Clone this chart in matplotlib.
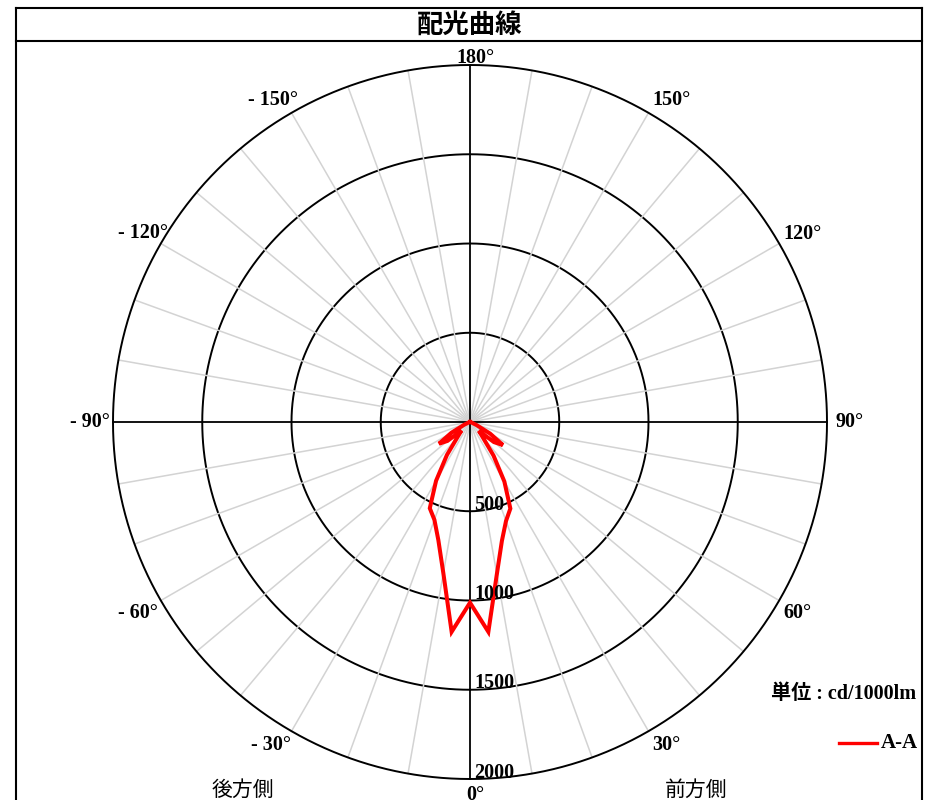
import numpy as np
import matplotlib
matplotlib.use("Agg")
import matplotlib.pyplot as plt
from matplotlib.lines import Line2D

# -----------------------------
# Data (cd/1000lm, A-A plane)
# -----------------------------
angles_deg = [
    -180, -175, -170, -165, -160, -155, -150, -145, -140, -135, -130, -125,
    -120, -115, -110, -105, -100, -95, -90, -85, -80, -75, -70, -65,
    -60, -55, -50, -45, -40, -35, -30, -25, -20, -15, -10, -5,
    0,
    5, 10, 15, 20, 25, 30, 35, 40, 45, 50, 55, 60,
    65, 70, 75, 80, 85, 90, 95, 100, 105, 110, 115, 120,
    125, 130, 135, 140, 145, 150, 155, 160, 165, 170, 175, 180,
]
intensity = [
    0, 0, 0, 0, 0, 0, 0, 0, 0, 0, 0, 0,
    0, 0, 0, 0, 0, 0, 0, 0, 0, 0, 8, 35,
    120, 212, 165, 68, 105, 225, 380, 533, 583, 685, 860, 1180,
    1012,
    1180, 866, 690, 590, 535, 385, 230, 110, 70, 175, 225, 130,
    40, 10, 0, 0, 0, 0, 0, 0, 0, 0, 0, 0,
    0, 0, 0, 0, 0, 0, 0, 0, 0, 0, 0, 0,
]
series_name = "A-A"

ring_values = [500, 1000, 1500, 2000]
angle_labels = [0, 30, 60, 90, 120, 150, 180, -30, -60, -90, -120, -150]

SERIF = "Liberation Serif"
CJK = ["Noto Sans CJK JP", "DejaVu Sans"]

# -----------------------------
# Figure / frame
# -----------------------------
W, H = 930, 800
fig = plt.figure(figsize=(W / 100, H / 100), dpi=100)

def fx(px):
    return px / W

def fy(py):
    return 1 - py / H

frame_kw = dict(color="black", lw=1.5, transform=fig.transFigure)
fig.add_artist(Line2D([fx(15.5), fx(921.5)], [fy(7.5), fy(7.5)], **frame_kw))
fig.add_artist(Line2D([fx(15.5), fx(921.5)], [fy(41), fy(41)], **frame_kw))
fig.add_artist(Line2D([fx(15.5), fx(15.5)], [fy(7.5), fy(820)], **frame_kw))
fig.add_artist(Line2D([fx(921.5), fx(921.5)], [fy(7.5), fy(820)], **frame_kw))

fig.text(fx(470), fy(25), "配光曲線", family=CJK, fontsize=19, weight="bold",
         ha="center", va="center")

# -----------------------------
# Polar axes
# -----------------------------
cx, cy, R = 470, 422, 357
ax = fig.add_axes([fx(cx - R), fy(cy + R), 2 * R / W, 2 * R / H], projection="polar")
ax.set_theta_zero_location("S")
ax.set_theta_direction(1)
ax.set_rlim(0, 2000)
ax.grid(False)
ax.set_xticks([])
ax.set_yticks([])
ax.spines["polar"].set_visible(False)

th = np.linspace(0, 2 * np.pi, 721)
for r in ring_values:
    ax.plot(th, np.full_like(th, r), color="black", lw=1.4,
            zorder=4 if r == 2000 else 1, clip_on=False)

# gray spokes every 10 degrees, black cross lines
for a in range(0, 360, 10):
    t = np.deg2rad(a)
    if a % 90:
        ax.plot([t, t], [0, 2000], color="#d3d3d3", lw=1.1, zorder=2, clip_on=False)
    else:
        ax.plot([t, t], [0, 2000], color="black", lw=1.3, zorder=3, clip_on=False)

# angle labels
lab_style = {
    0: ("center", "top", 4, -4),
    30: ("left", "top", 3, -3),
    60: ("left", "top", 3, -2),
    90: ("left", "center", 6, 0),
    120: ("left", "bottom", 3, 0),
    150: ("left", "bottom", 3, 2),
    180: ("center", "bottom", 4, -2),
    -30: ("right", "top", 0, -3),
    -60: ("right", "top", -2, -2),
    -90: ("right", "center", -2, 0),
    -120: ("right", "bottom", 5, 0),
    -150: ("right", "bottom", 5, 2),
}
for a in angle_labels:
    ha, va, dx, dy = lab_style[a]
    txt = f"{a}°" if a >= 0 else f"- {abs(a)}°"
    ax.annotate(txt, (np.deg2rad(a), 2000), xytext=(dx, dy),
                textcoords="offset points", ha=ha, va=va, family=SERIF,
                weight="bold", fontsize=14.5, annotation_clip=False)

# radial labels
for r in ring_values:
    ax.annotate(str(r), (0, r), xytext=(3, 1), textcoords="offset points",
                ha="left", va="baseline", family=SERIF, weight="bold",
                fontsize=14.5, annotation_clip=False, zorder=6)

# curve
ax.plot(np.deg2rad(angles_deg), intensity, color="#ff0000", lw=2.9,
        solid_joinstyle="miter", zorder=5)

# -----------------------------
# Legend / annotations
# -----------------------------
fig.text(fx(916), fy(694), "単位 : cd/1000lm", family=[SERIF] + CJK,
         weight="bold", fontsize=14.5, ha="right", va="center")
fig.add_artist(Line2D([fx(839), fx(877)], [fy(743), fy(743)], color="#ff0000",
                      lw=2.4, transform=fig.transFigure))
fig.text(fx(881), fy(743.5), series_name, family=SERIF, weight="bold",
         fontsize=15, ha="left", va="center")

fig.text(fx(243), fy(779), "後方側", family=CJK, fontsize=15,
         ha="center", va="top")
fig.text(fx(696), fy(779), "前方側", family=CJK, fontsize=15,
         ha="center", va="top")

fig.savefig("out.png", dpi=100)
